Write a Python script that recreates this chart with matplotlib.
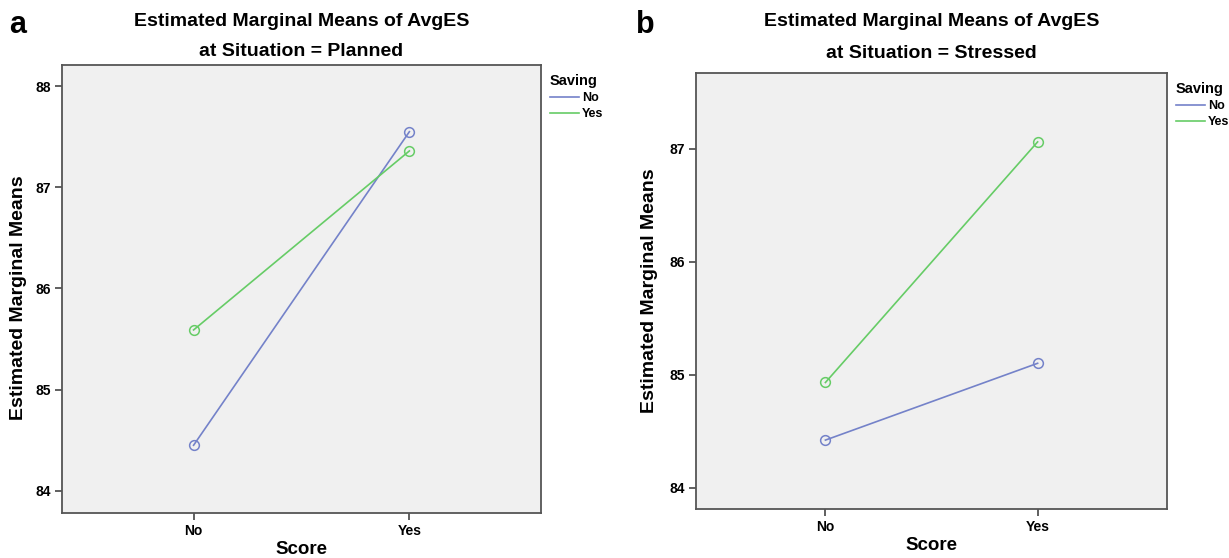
import matplotlib.pyplot as plt

plt.rcParams['font.family'] = ['Liberation Sans', 'DejaVu Sans']
plt.rcParams['font.weight'] = 'bold'

score = ['No', 'Yes']
saving = ['No', 'Yes']

# panel a: Situation = Planned
planned_no = [84.45, 87.55]
planned_yes = [85.59, 87.36]
# panel b: Situation = Stressed
stressed_no = [84.42, 85.10]
stressed_yes = [84.93, 87.06]

colors = ['#7482c9', '#66cc66']

W, H = 1229, 558
fig = plt.figure(figsize=(W / 100, H / 100), dpi=100)
ax1 = fig.add_axes([0.0504, 0.0806, 0.3898, 0.803])
ax2 = fig.add_axes([0.5663, 0.0878, 0.3833, 0.7814])

panels = [
    (ax1, planned_no, planned_yes, 'Planned', (83.78, 88.21), [84, 85, 86, 87, 88],
     'a', 18, (22, 52), -0.072, 0.48),
    (ax2, stressed_no, stressed_yes, 'Stressed', (83.81, 87.67), [84, 85, 86, 87],
     'b', 645, (21, 53), -0.080, 0.5),
]

for ax, s_no, s_yes, situation, ylim, yticks, letter, lx, ty, ylx, yly in panels:
    x = range(len(score))
    for vals, lab, c in zip([s_no, s_yes], saving, colors):
        ax.plot(x, vals, color=c, lw=1.2, marker='o', ms=7, mfc='none',
                mec=c, mew=1.1, label=lab)
    ax.set_facecolor('#f0f0f0')
    ax.set_xlim(-0.61, 1.61)
    ax.set_ylim(*ylim)
    ax.set_xticks(list(x))
    ax.set_xticklabels(score)
    ax.set_yticks(yticks)
    ax.tick_params(direction='out', length=5, width=1.2, color='#444444',
                   labelsize=10, pad=3)
    for sp in ax.spines.values():
        sp.set_color('#555555')
        sp.set_linewidth(1.3)
    ax.set_xlabel('Score', fontsize=13.5, fontweight='bold', labelpad=2)
    ax.set_ylabel('Estimated Marginal Means', fontsize=14, fontweight='bold')
    ax.yaxis.set_label_coords(ylx, yly)

    # two-line title, placed in figure pixels
    pos = ax.get_position()
    cx = (pos.x0 + pos.x1) / 2
    fig.text(cx, 1 - ty[0] / H, 'Estimated Marginal Means of AvgES',
             fontsize=14, fontweight='bold', ha='center', va='center')
    fig.text(cx, 1 - ty[1] / H, 'at Situation = %s' % situation,
             fontsize=14, fontweight='bold', ha='center', va='center')

    leg = ax.legend(title='Saving', loc='upper left', bbox_to_anchor=(1.0, 1.0),
                    frameon=False, fontsize=9, title_fontsize=10.5,
                    handlelength=2.3, handletextpad=0.3, borderaxespad=0.3,
                    labelspacing=0.35, markerscale=0)
    leg._legend_box.align = 'left'
    for h in leg.legend_handles:
        h.set_marker('')

    fig.text(lx / W, 1 - 25 / H, letter, fontsize=22, fontweight='bold',
             ha='center', va='center')

fig.savefig('out.png', dpi=100)
